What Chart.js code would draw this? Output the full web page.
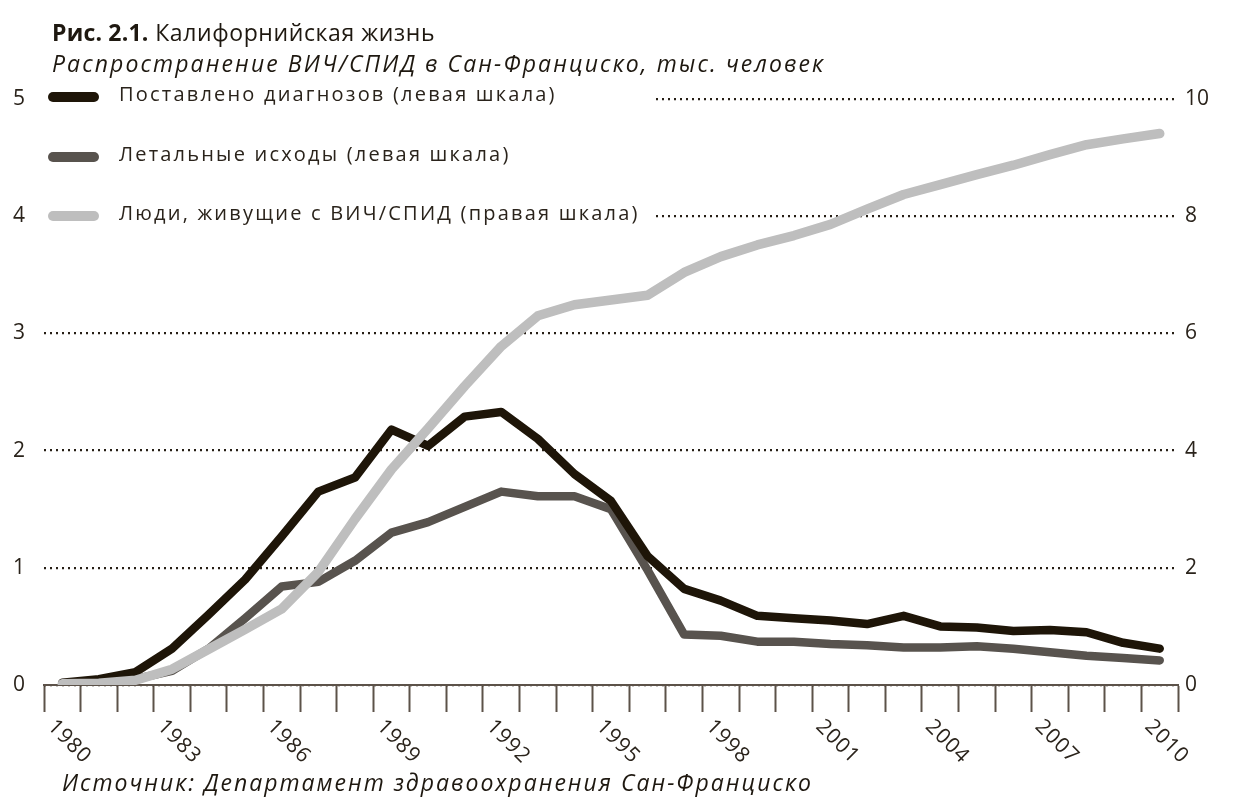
<!DOCTYPE html>
<html>
<head>
<meta charset="utf-8">
<script src="https://cdn.jsdelivr.net/npm/chart.js@4.4.1/dist/chart.umd.min.js"></script>
<style>
  html, body { margin: 0; padding: 0; background: #fff; }
  #wrap { position: relative; width: 1239px; height: 801px; }
  #chart { position: absolute; left: 0; top: 0; }
  .txt { position: absolute; font-family: "Open Sans", sans-serif; color: #1e1810; white-space: nowrap; }
  #title { left: 52px; top: 17px; font-size: 23px; line-height: 30px; letter-spacing: 0.6px; }
  #title b { font-weight: 700; letter-spacing: 0.2px; }
  #subtitle { left: 52px; top: 48px; font-size: 23px; line-height: 30px; font-style: italic; letter-spacing: 2.1px; }
  #source { left: 62px; top: 767px; font-size: 23px; line-height: 30px; font-style: italic; letter-spacing: 2px; }
</style>
</head>
<body>
<div id="wrap">
  <canvas id="chart" width="1239" height="801"></canvas>
  <div class="txt" id="title"><b>Рис. 2.1.</b> Калифорнийская жизнь</div>
  <div class="txt" id="subtitle">Распространение ВИЧ/СПИД в Сан-Франциско, тыс. человек</div>
  <div class="txt" id="source">Источник: Департамент здравоохранения Сан-Франциско</div>
</div>
<script>
const years = ["1980","1981","1982","1983","1984","1985","1986","1987","1988","1989","1990",
  "1991","1992","1993","1994","1995","1996","1997","1998","1999","2000",
  "2001","2002","2003","2004","2005","2006","2007","2008","2009","2010"];

// left scale, thousands
const diagnoses = [0.02,0.05,0.11,0.31,0.6,0.9,1.27,1.65,1.77,2.18,2.04,
  2.29,2.33,2.10,1.80,1.57,1.10,0.82,0.72,0.59,0.57,
  0.55,0.52,0.59,0.50,0.49,0.46,0.47,0.45,0.36,0.31];
const deaths = [0.01,0.02,0.05,0.12,0.31,0.57,0.84,0.88,1.06,1.30,1.39,
  1.52,1.65,1.61,1.61,1.50,0.98,0.43,0.42,0.37,0.37,
  0.35,0.34,0.32,0.32,0.33,0.31,0.28,0.25,0.23,0.21];
// right scale, thousands
const living = [0.02,0.03,0.08,0.27,0.61,0.95,1.30,1.93,2.83,3.68,4.38,
  5.10,5.78,6.30,6.49,6.57,6.65,7.04,7.31,7.51,7.67,
  7.86,8.12,8.37,8.54,8.71,8.87,9.05,9.22,9.32,9.41];

const labelYears = ["1980","1983","1986","1989","1992","1995","1998","2001","2004","2007","2010"];
const legendNames = [
  "Поставлено диагнозов (левая шкала)",
  "Летальные исходы (левая шкала)",
  "Люди, живущие с ВИЧ/СПИД (правая шкала)"
];

const BLACK = "#1e1508";
const DARK = "#58534e";
const LIGHT = "#bebebe";
const INK = "#2a231b";
const FONT = "Open Sans";

// white box with the legend, drawn over the grid but under the lines
const legendBox = {
  id: "legendBox",
  beforeDatasetsDraw(chart) {
    const ctx = chart.ctx;
    ctx.save();
    ctx.fillStyle = "#fff";
    ctx.fillRect(40, 84, 612, 150);
    const rows = [97, 157, 216];
    const cols = [BLACK, DARK, LIGHT];
    ctx.lineCap = "round";
    ctx.lineWidth = 10;
    ctx.font = "20px '" + FONT + "'";
    ctx.letterSpacing = "2.2px";
    ctx.textBaseline = "middle";
    rows.forEach((y, i) => {
      ctx.strokeStyle = cols[i];
      ctx.beginPath();
      ctx.moveTo(53, y);
      ctx.lineTo(94, y);
      ctx.stroke();
      ctx.fillStyle = INK;
      ctx.fillText(legendNames[i], 119, y - 2);
    });
    ctx.restore();
  }
};

// x labels slanted downwards to the right
const slantLabels = {
  id: "slantLabels",
  afterDraw(chart) {
    const ctx = chart.ctx;
    const xs = chart.scales.x;
    ctx.save();
    ctx.font = "21px '" + FONT + "'";
    ctx.letterSpacing = "1px";
    ctx.fillStyle = INK;
    ctx.textAlign = "left";
    ctx.textBaseline = "alphabetic";
    labelYears.forEach(lbl => {
      const i = years.indexOf(lbl);
      const x = xs.getPixelForValue(i);
      ctx.save();
      ctx.translate(x - 5, 717);
      ctx.rotate(Math.PI / 4);
      ctx.fillText(lbl, 0, 15);
      ctx.restore();
    });
    ctx.restore();
  }
};

new Chart(document.getElementById("chart"), {
  type: "line",
  data: {
    labels: years,
    datasets: [
      { label: legendNames[0], data: diagnoses, yAxisID: "y", borderColor: BLACK, borderWidth: 8.5, order: 1 },
      { label: legendNames[1], data: deaths, yAxisID: "y", borderColor: DARK, borderWidth: 8.5, order: 2 },
      { label: legendNames[2], data: living, yAxisID: "y1", borderColor: LIGHT, borderWidth: 9.5, order: 0 }
    ]
  },
  options: {
    responsive: false,
    devicePixelRatio: 1,
    animation: false,
    layout: { padding: { top: 99, bottom: 0, left: 0, right: 0 } },
    elements: {
      point: { radius: 0 },
      line: { tension: 0, borderCapStyle: "round", borderJoinStyle: "round", fill: false }
    },
    plugins: { legend: { display: false }, tooltip: { enabled: false } },
    scales: {
      x: {
        offset: true,
        afterFit: s => { s.height = 116; },
        grid: { offset: true, drawOnChartArea: false, drawTicks: true, tickLength: 27, tickColor: "#5c5249", tickWidth: 2 },
        border: { display: true, color: "#5c5249", width: 2 },
        ticks: { display: false }
      },
      y: {
        position: "left",
        min: 0, max: 5,
        afterFit: s => { s.width = 44; },
        ticks: { stepSize: 1, padding: 19, color: INK, font: { family: FONT, size: 21 } },
        grid: { color: "#261e15", lineWidth: 2.2, drawTicks: false },
        border: { display: false, dash: [2, 4] }
      },
      y1: {
        position: "right",
        min: 0, max: 10,
        afterFit: s => { s.width = 61; },
        ticks: { stepSize: 2, padding: 7, color: INK, font: { family: FONT, size: 21 } },
        grid: { display: false, drawTicks: false },
        border: { display: false }
      }
    }
  },
  plugins: [legendBox, slantLabels]
});
</script>
</body>
</html>
